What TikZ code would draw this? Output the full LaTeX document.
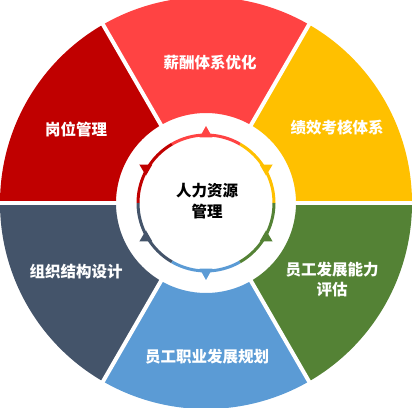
\documentclass[tikz,border=0pt]{standalone}
\usepackage{fontspec}
\newfontfamily\cjk{Noto Sans CJK SC}
\definecolor{cRed}{HTML}{FF4343}
\definecolor{cDark}{HTML}{C00000}
\definecolor{cYellow}{HTML}{FFC000}
\definecolor{cGreen}{HTML}{548235}
\definecolor{cBlue}{HTML}{5B9BD5}
\definecolor{cSlate}{HTML}{44546A}
\begin{document}
\begin{tikzpicture}[x=1pt,y=1pt,
  seglabel/.style={text=white,font=\cjk\bfseries\fontsize{15.5}{20}\selectfont,align=center,inner sep=0pt},
  centerlabel/.style={text=black,font=\cjk\bfseries\fontsize{15.5}{21}\selectfont,align=center,inner sep=0pt}]
\useasboundingbox (0,0) rectangle (412,407);
\begin{scope}[shift={(206,204)}]
  \foreach \a/\c in {0/cYellow,60/cRed,120/cDark,180/cSlate,240/cBlue,300/cGreen}{
    \pgfmathsetmacro\b{\a+60}
    \pgfmathsetmacro\m{\a+30}
    \pgfmathsetmacro\ml{\a+24.5}
    \pgfmathsetmacro\mr{\a+35.5}
    \fill[\c] (\a:90) arc[start angle=\a,end angle=\b,radius=90]
      -- (\b:206) arc[start angle=\b,end angle=\a,radius=206] -- cycle;
    \draw[\c,line width=3pt] (\a:68) arc[start angle=\a,end angle=\b,radius=68];
    \fill[\c] (\ml:66) -- (\m:77) -- (\mr:66) -- cycle;
  }
  \foreach \a in {0,60,...,300}{
    \draw[white,line width=4pt] (\a:85) -- (\a:212);
  }
\end{scope}
\node[seglabel] (n1) at (210,344) {薪酬体系优化};
\node[seglabel] (n2) at (337,279) {绩效考核体系};
\node[seglabel] (n3) at (332,127) {员工发展能力\\评估};
\node[seglabel] (n4) at (207,50) {员工职业发展规划};
\node[seglabel] (n5) at (76,135) {组织结构设计};
\node[seglabel] (n6) at (76,278) {岗位管理};
\node[centerlabel] (c) at (207,206) {人力资源\\管理};
\end{tikzpicture}
\end{document}
